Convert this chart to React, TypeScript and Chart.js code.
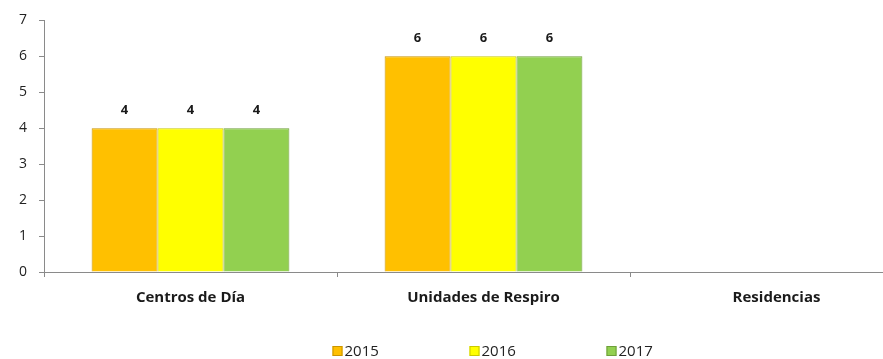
import React, { useEffect, useRef } from "react";
import { Chart, registerables } from "chart.js";

Chart.register(...registerables);

const categories = ["Centros de Día", "Unidades de Respiro", "Residencias"];
const seriesLabels = ["2015", "2016", "2017"];
const values2015 = [4, 6, null];
const values2016 = [4, 6, null];
const values2017 = [4, 6, null];
const yTicks = [0, 1, 2, 3, 4, 5, 6, 7];

const fills = ["#FFC000", "#FFFF00", "#92D050"];
const edges = ["#C99400", "#C9C900", "#6E9E3A"];
const darks = ["#E8A800", "#E6E600", "#7DB844"];

const FONT = "'Open Sans', Lato, sans-serif";

function barFill(i: number) {
  return (c: any) => {
    const chart = c.chart;
    const el = c.element;
    if (!el || !chart.chartArea || el.width === undefined) return fills[i];
    const x0 = el.x - el.width / 2;
    const x1 = el.x + el.width / 2;
    const g = chart.ctx.createLinearGradient(x0, 0, x1, 0);
    g.addColorStop(0, darks[i]);
    g.addColorStop(0.06, fills[i]);
    g.addColorStop(0.94, fills[i]);
    g.addColorStop(1, darks[i]);
    return g;
  };
}

const valueLabels = {
  id: "valueLabels",
  afterDatasetsDraw(chart: any) {
    const ctx = chart.ctx;
    ctx.save();
    ctx.font = `bold 13px ${FONT}`;
    ctx.fillStyle = "#1a1a1a";
    ctx.textAlign = "center";
    ctx.textBaseline = "middle";
    chart.data.datasets.forEach((ds: any, i: number) => {
      const meta = chart.getDatasetMeta(i);
      meta.data.forEach((bar: any, j: number) => {
        const v = ds.data[j];
        if (v === null || v === undefined) return;
        ctx.fillText(String(v), bar.x, bar.y - 18);
      });
    });
    ctx.restore();
  },
};

const customLegend = {
  id: "customLegend",
  afterDraw(chart: any) {
    const ctx = chart.ctx;
    const area = chart.chartArea;
    const spacing = 137;
    const n = chart.data.datasets.length;
    const center = (area.left + area.right) / 2 + 8;
    const y = chart.height - 8;
    ctx.save();
    ctx.font = `15px ${FONT}`;
    ctx.textBaseline = "middle";
    ctx.textAlign = "left";
    chart.data.datasets.forEach((ds: any, i: number) => {
      const x0 = center + (i - (n - 1) / 2) * spacing - 22;
      ctx.fillStyle = fills[i];
      ctx.fillRect(x0, y - 5, 10, 10);
      ctx.strokeStyle = edges[i];
      ctx.lineWidth = 1;
      ctx.strokeRect(x0 + 0.5, y - 4.5, 9, 9);
      ctx.fillStyle = "#222";
      ctx.fillText(ds.label, x0 + 12, y + 1);
    });
    ctx.restore();
  },
};

export default function App() {
  const ref = useRef<HTMLCanvasElement | null>(null);

  useEffect(() => {
    if (!ref.current) return;
    const seriesValues = [values2015, values2016, values2017];
    const chart = new Chart(ref.current, {
      type: "bar",
      data: {
        labels: categories,
        datasets: seriesLabels.map((label, i) => ({
          label,
          data: seriesValues[i],
          backgroundColor: barFill(i),
          borderColor: edges[i],
          borderWidth: 1,
          categoryPercentage: 0.675,
          barPercentage: 1,
        })),
      },
      options: {
        animation: false,
        responsive: false,
        maintainAspectRatio: false,
        layout: { padding: { left: 0, right: 17, top: 18, bottom: 30 } },
        plugins: {
          legend: { display: false },
          tooltip: { enabled: false },
        },
        scales: {
          x: {
            afterFit: (s: any) => {
              s.height = 57;
            },
            grid: {
              display: true,
              drawOnChartArea: false,
              drawTicks: true,
              tickLength: 5,
              color: "#8a8a8a",
              offset: true,
            },
            border: { color: "#8a8a8a", width: 1 },
            ticks: {
              color: "#1a1a1a",
              padding: 12,
              font: { family: FONT, size: 15, weight: "bold" },
            },
          },
          y: {
            min: 0,
            max: 7,
            afterFit: (s: any) => {
              s.width = 44;
            },
            afterBuildTicks: (s: any) => {
              s.ticks = yTicks.map((v) => ({ value: v }));
            },
            grid: {
              display: true,
              drawOnChartArea: false,
              drawTicks: true,
              tickLength: 5,
              color: "#8a8a8a",
            },
            border: { color: "#8a8a8a", width: 1 },
            ticks: {
              color: "#222",
              padding: 12,
              font: { family: FONT, size: 14 },
            },
          },
        },
      },
      plugins: [valueLabels, customLegend],
    });
    return () => chart.destroy();
  }, []);

  return (
    <div
      style={{
        position: "fixed",
        left: 0,
        top: 0,
        width: 883,
        height: 359,
        overflow: "hidden",
        background: "#fff",
      }}
    >
      <canvas ref={ref} width={940} height={359} style={{ display: "block" }} />
    </div>
  );
}
